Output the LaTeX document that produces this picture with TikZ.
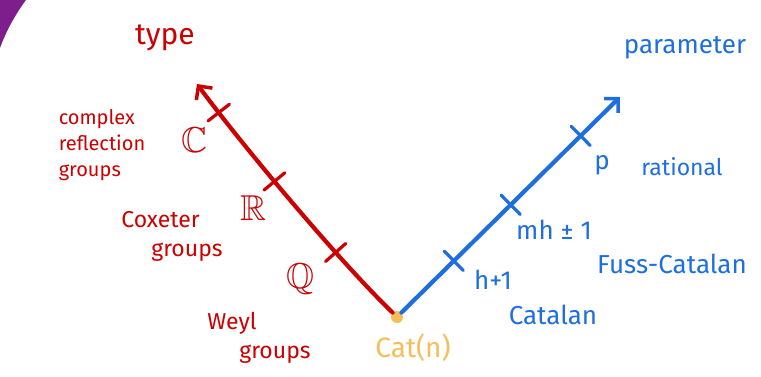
\documentclass[tikz,border=0pt]{standalone}
\usepackage{amssymb}
\usepackage{fontspec}
\setmainfont{Fira Sans}
\usetikzlibrary{arrows.meta}

\definecolor{typered}{RGB}{204,0,0}
\definecolor{parblue}{RGB}{30,110,225}
\definecolor{catorange}{RGB}{245,190,90}
\definecolor{slidepurple}{RGB}{125,30,140}

\begin{document}
\begin{tikzpicture}[
x=1pt,
y=-1pt,
axis/.style={
line width=4.2pt,
line cap=round,
-{Straight Barb[length=10pt,width=20pt,line width=3.5pt]}
},
tickmark/.style={
draw,
line width=3.2pt,
line join=round,
minimum width=0pt,
minimum height=27pt,
inner sep=0pt,
sloped
},
redlabel/.style={
text=typered,
font=\fontsize{23}{29}\selectfont,
align=left
},
bluelabel/.style={
text=parblue,
font=\fontsize{26}{30}\selectfont,
align=left
},
setlabel/.style={
text=typered,
font=\fontsize{36}{38}\selectfont
}
]

\useasboundingbox (0,0) rectangle (761,376);

% corner of the slide
\fill[slidepurple] (0,0) -- (26,0) .. controls (14,16) and (5,34) .. (0,48) -- cycle;

% origin
\node[circle, fill=catorange, minimum size=12pt, inner sep=0pt] (cat) at (397,317) {};
\node[text=catorange, font=\fontsize{28}{30}\selectfont] (catlabel) at (413,348) {Cat(n)};

% type axis
\coordinate (typetip) at (197,84);
\draw[axis, typered] (cat.135) .. controls (340,262) and (242,145) .. (typetip)
node[tickmark, pos=0.3] (qtick) {}
node[tickmark, pos=0.58] (rtick) {}
node[tickmark, pos=0.86] (ctick) {};

% parameter axis
\coordinate (partip) at (620,97);
\draw[axis, parblue] (cat.45) -- (partip)
node[tickmark, pos=0.24] (htick) {}
node[tickmark, pos=0.5] (mhtick) {}
node[tickmark, pos=0.82] (ptick) {};

% red labels
\node[redlabel, font=\fontsize{30}{32}\selectfont] (type) at (165,38) {type};
\node[setlabel] (cc) at (194,140) {$\mathbb{C}$};
\node[setlabel] (rr) at (253,208) {$\mathbb{R}$};
\node[setlabel] (qq) at (300,279) {$\mathbb{Q}$};
\node[redlabel, font=\fontsize{20}{26}\selectfont] (complex) at (102,145) {complex\\reflection\\groups};
\node[redlabel] (coxeter) at (172,236) {Coxeter\\\hspace*{30pt}groups};
\node[redlabel] (weyl) at (259,338) {Weyl\\\hspace*{32pt}groups};

% blue labels
\node[bluelabel] (param) at (685,48) {parameter};
\node[bluelabel] (p) at (602,165) {p};
\node[bluelabel, font=\fontsize{23}{26}\selectfont] (rational) at (682,167) {rational};
\node[bluelabel] (mh) at (554,230) {mh ± 1};
\node[bluelabel] (fuss) at (672,264) {Fuss-Catalan};
\node[bluelabel] (hplus) at (493,280) {h+1};
\node[bluelabel] (catalan) at (553,315) {Catalan};

\end{tikzpicture}
\end{document}
